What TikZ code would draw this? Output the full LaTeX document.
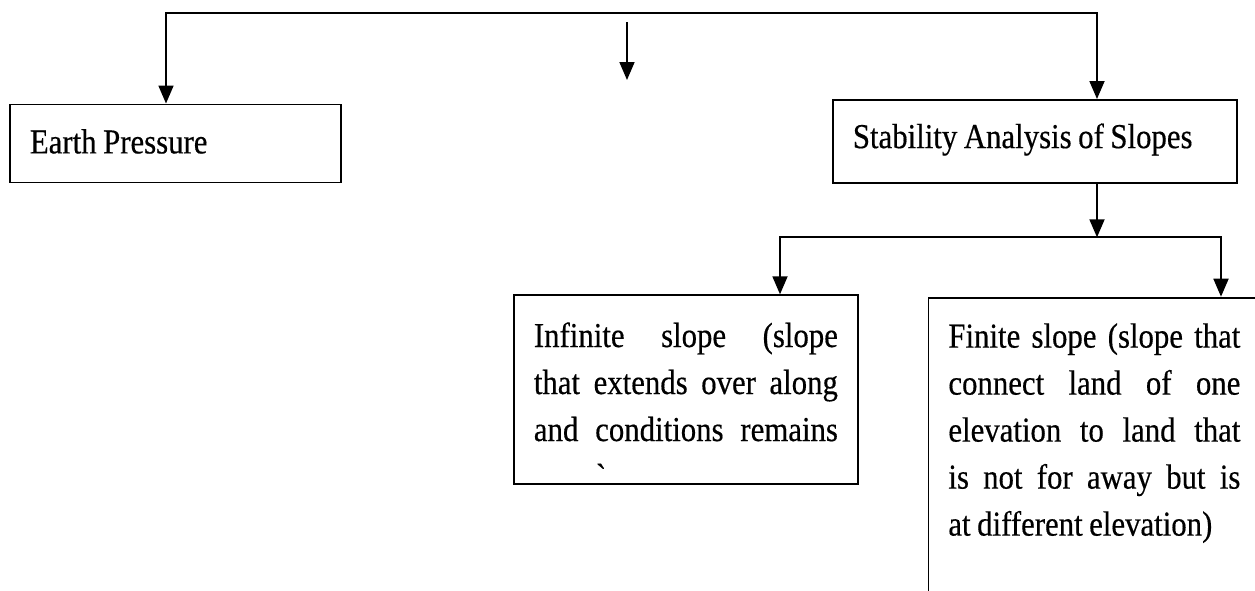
\documentclass[tikz,border=0pt]{standalone}
\usepackage{fontspec}
\setmainfont{Liberation Serif}[FakeStretch=0.88, WordSpace=0.85, FakeBold=0.4]
\usetikzlibrary{arrows.meta}
\tolerance=9999
\hbadness=10000

\tikzset{
  box/.style={draw, line width=0.9pt, anchor=north west, inner xsep=10pt, inner ysep=0pt,
    align=justify, font=\fontsize{17.5pt}{23.5pt}\selectfont},
  arr/.style={-{Triangle[length=9pt,width=7.5pt]}, line width=0.9pt, line cap=rect},
  link/.style={line width=0.9pt}
}

\begin{document}
\begin{tikzpicture}[x=0.5pt, y=-0.5pt]
    \path[fill=white, use as bounding box] (0,0) rectangle (1255,590);
    \clip (0,0) rectangle (1255,590);

    % Boxes
    \node[box, text width=145.5pt, text height=24.5pt, text depth=14.5pt] (earth) at (9,103.5) {Earth Pressure};
    \node[box, text width=182pt, text height=24.1pt, text depth=17.5pt] (stab) at (832,99) {Stability Analysis of Slopes};
    \node[box, text width=152pt, text height=25.9pt, text depth=68.5pt] (inf) at (513,294.3)
        {Infinite slope (slope\linebreak that extends over along\linebreak and conditions remains\linebreak\hspace*{31pt}\textasciigrave};
    \node[box, text width=146pt, text height=25pt, text depth=150pt] (fin) at (927.5,296.7)
        {Finite slope (slope that\linebreak connect land of one\linebreak elevation to land that\linebreak is not for away but is\linebreak at different elevation)};

    % Bus points
    \coordinate (busL) at (166,13);
    \coordinate (busR) at (1097,13);
    \coordinate (midA) at (627,23);
    \coordinate (midB) at (627,80);
    \coordinate (splitL) at (780,237.3);
    \coordinate (splitR) at (1221,237.3);

    % Top level
    \draw[arr] (busR) -- (busL) -- (busL |- earth.north);
    \draw[arr] (busR) -- (busR |- stab.north);
    \draw[arr] (midA) -- (midB);

    % Slope types
    \draw[arr] (stab.south -| busR) -- (busR |- splitL);
    \draw[link] (splitL) -- (splitR);
    \draw[arr] (splitL) -- (splitL |- inf.north);
    \draw[arr] (splitR) -- (splitR |- fin.north);
\end{tikzpicture}
\end{document}
